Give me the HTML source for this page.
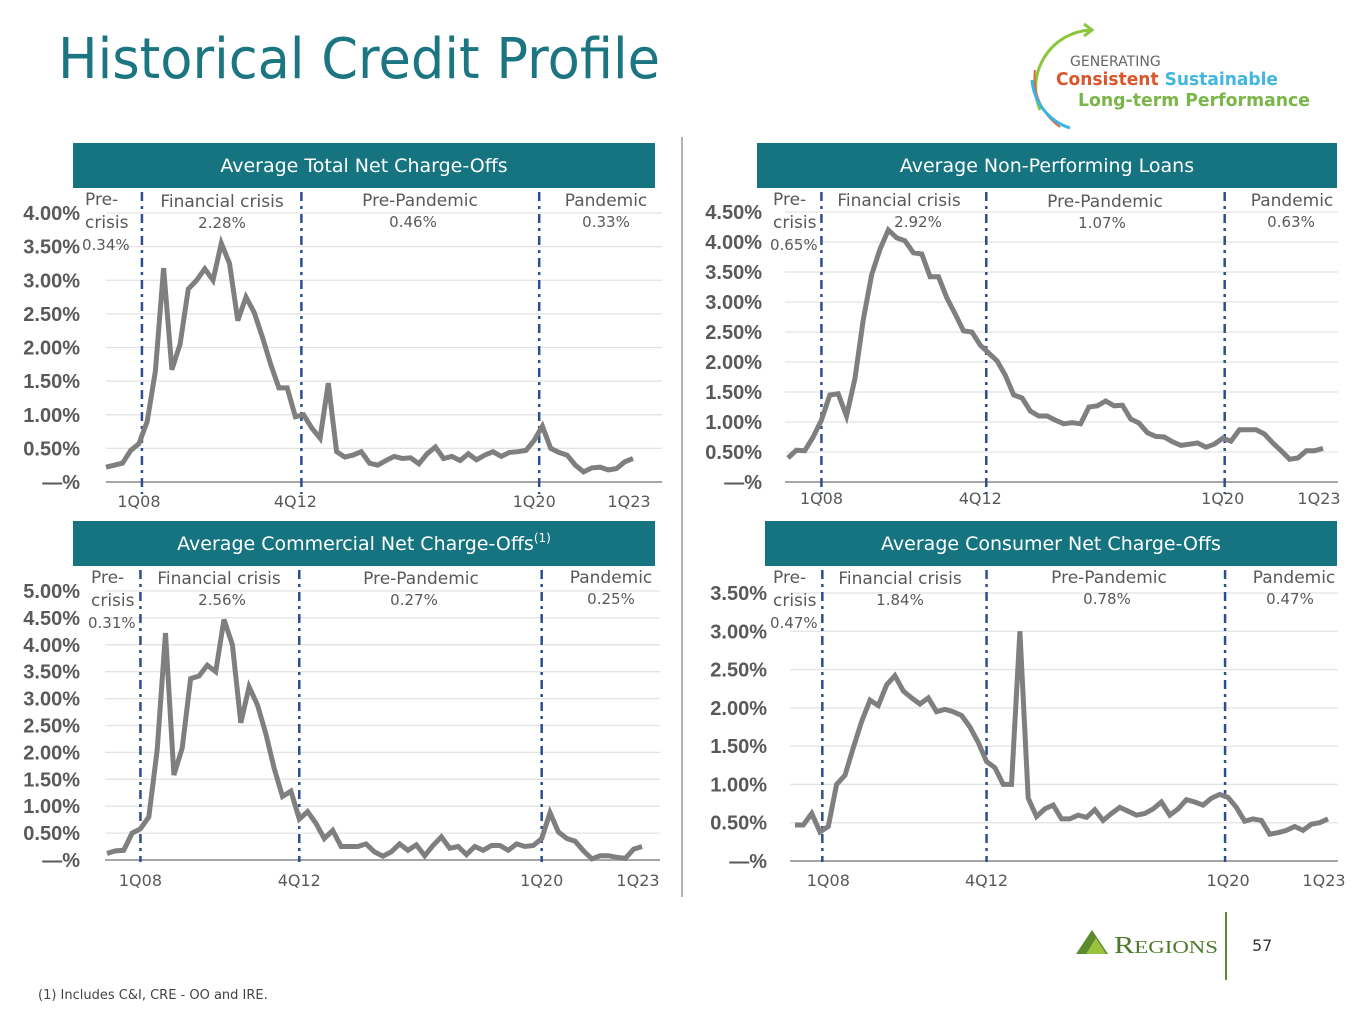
<!DOCTYPE html>
<html><head><meta charset="utf-8"><style>
body{margin:0;background:#fff;width:1365px;height:1024px;overflow:hidden;font-family:"Liberation Sans",sans-serif}
svg text{font-family:"DejaVu Sans","Liberation Sans",sans-serif}
</style></head><body>
<svg id="s" width="1365" height="1024" viewBox="0 0 1365 1024">
<text x="58" y="78" font-size="56" fill="#1b7682" textLength="602" lengthAdjust="spacingAndGlyphs">Historical Credit Profile</text>
<g>
<path d="M1090,30 A58,58 0 0 0 1040,110" fill="none" stroke="#8cc63f" stroke-width="3"/>
<path d="M1084,24 l8,6 l-8,6" fill="none" stroke="#8cc63f" stroke-width="3"/>
<path d="M1035,70 A60,60 0 0 0 1060,127" fill="none" stroke="#e06a3b" stroke-width="2"/>
<path d="M1032,80 A55,55 0 0 0 1070,128" fill="none" stroke="#39b4e6" stroke-width="3"/>
<text x="1070" y="66" font-size="14" fill="#666">GENERATING</text>
<text x="1056" y="85" font-size="18" font-weight="bold" fill="#d9572b" textLength="222" lengthAdjust="spacingAndGlyphs">Consistent <tspan fill="#43b6e0">Sustainable</tspan></text>
<text x="1078" y="106" font-size="18" font-weight="bold" fill="#7ab648" textLength="232" lengthAdjust="spacingAndGlyphs">Long-term Performance</text>
</g>
<line x1="682" y1="137" x2="682" y2="897" stroke="#999" stroke-width="1.5"/>
<g>
<polygon points="1076,954 1092,930 1108,954" fill="#5c8a2e"/>
<polygon points="1086,954 1096,938 1106,954" fill="#9bc23c"/>
<text x="1114" y="953" font-size="24" fill="#4d7a2a" textLength="104" lengthAdjust="spacingAndGlyphs" style="font-family:'Liberation Serif'">R<tspan font-size="18">EGIONS</tspan></text>
<line x1="1226" y1="912" x2="1226" y2="980" stroke="#5c8a2e" stroke-width="2"/>
<text x="1252" y="951" font-size="16" fill="#333">57</text>
</g>
<text x="38" y="999" font-size="13" fill="#444">(1) Includes C&amp;I, CRE - OO and IRE.</text>
</svg>
<script>
const totalNCO=[0.22,0.25,0.28,0.47,0.57,0.90,1.65,3.18,1.67,2.05,2.87,3.00,3.17,3.00,3.55,3.25,2.40,2.75,2.52,2.15,1.75,1.40,1.40,0.97,1.00,0.80,0.65,1.47,0.45,0.37,0.40,0.45,0.28,0.25,0.32,0.38,0.35,0.36,0.27,0.42,0.52,0.35,0.38,0.32,0.42,0.33,0.40,0.45,0.38,0.44,0.45,0.47,0.62,0.83,0.50,0.44,0.40,0.25,0.15,0.21,0.22,0.18,0.20,0.30,0.35];
const npl=[0.40,0.53,0.52,0.75,1.03,1.45,1.47,1.10,1.72,2.70,3.45,3.88,4.20,4.07,4.02,3.82,3.80,3.42,3.42,3.07,2.80,2.52,2.50,2.28,2.15,2.02,1.78,1.45,1.40,1.18,1.10,1.10,1.03,0.97,0.99,0.97,1.25,1.27,1.35,1.27,1.28,1.05,0.98,0.82,0.76,0.75,0.67,0.61,0.63,0.65,0.58,0.63,0.73,0.68,0.87,0.87,0.87,0.80,0.65,0.52,0.38,0.40,0.52,0.52,0.56];
const commNCO=[0.12,0.17,0.18,0.50,0.58,0.80,2.05,4.22,1.58,2.08,3.37,3.42,3.62,3.50,4.47,4.00,2.55,3.22,2.88,2.35,1.70,1.18,1.28,0.76,0.90,0.68,0.40,0.55,0.25,0.25,0.25,0.30,0.15,0.07,0.15,0.30,0.18,0.28,0.08,0.27,0.43,0.22,0.25,0.10,0.25,0.18,0.27,0.27,0.18,0.30,0.25,0.27,0.40,0.88,0.52,0.40,0.35,0.17,0.02,0.08,0.08,0.05,0.03,0.20,0.25];
const consNCO=[0.47,0.47,0.62,0.38,0.45,1.00,1.12,1.48,1.82,2.10,2.03,2.30,2.42,2.22,2.13,2.05,2.13,1.95,1.98,1.95,1.90,1.75,1.55,1.30,1.22,1.00,1.00,3.00,0.82,0.58,0.68,0.73,0.55,0.55,0.60,0.57,0.67,0.53,0.62,0.70,0.65,0.60,0.62,0.68,0.77,0.60,0.68,0.80,0.77,0.73,0.82,0.87,0.83,0.70,0.52,0.55,0.53,0.35,0.37,0.40,0.45,0.40,0.48,0.50,0.55];
const xTickLabels=["1Q08","4Q12","1Q20","1Q23"];
const xTickIndex=[4,23,52,64];
const dividerIndex=[4,23,52];
const periodNames=[["Pre-","crisis"],"Financial crisis","Pre-Pandemic","Pandemic"];
const avgTotal=["0.34%","2.28%","0.46%","0.33%"];
const avgNpl=["0.65%","2.92%","1.07%","0.63%"];
const avgComm=["0.31%","2.56%","0.27%","0.25%"];
const avgCons=["0.47%","1.84%","0.78%","0.47%"];
const ticksTotal=[0,0.5,1,1.5,2,2.5,3,3.5,4];
const ticksNpl=[0,0.5,1,1.5,2,2.5,3,3.5,4,4.5];
const ticksComm=[0,0.5,1,1.5,2,2.5,3,3.5,4,4.5,5];
const ticksCons=[0,0.5,1,1.5,2,2.5,3,3.5];

const svg=document.getElementById('s');
const NS='http://www.w3.org/2000/svg';
function mk(tag,attrs,parent){const e=document.createElementNS(NS,tag);for(const k in attrs)e.setAttribute(k,attrs[k]);(parent||svg).appendChild(e);return e;}
function txt(x,y,s,size,anchor,fill,parent){const t=mk('text',{x:x,y:y,'font-size':size,'text-anchor':anchor||'start',fill:fill||'#595959'},parent);t.textContent=s;return t;}

function chart(c){
  const g=mk('g',{});
  
  
  const h=mk('rect',{x:c.hx,y:c.hy,width:c.hw,height:45,fill:'#157480'},g);
  
  
  const ht=txt(c.hx+c.hw/2,c.hy+29,c.title,19,'middle','#fff',g);
  
  
  if(c.sup){const sp=mk('tspan',{'font-size':12,dy:-8},ht);sp.textContent=c.sup;}
  const ymax=c.ticks[c.ticks.length-1];
  const y=v=>c.y0-(v/ymax)*(c.y0-c.yTop);
  const n=c.data.length;
  const x=i=>c.xs+(c.xe-c.xs)*i/(n-1);
  c.ticks.forEach(t=>{
    const gl=mk('line',{x1:c.gx1,x2:c.gx2,y1:y(t),y2:y(t),stroke:t===0?'#a6a6a6':'#e3e3e3','stroke-width':t===0?2:1.3},g);
    
    
    const lab=txt(c.lx,y(t)+7,t===0?'—%':t.toFixed(2)+'%',20,'end','#595959',g);
    
    
    lab.setAttribute('font-weight','bold');
    lab.style.fontFamily="'Liberation Sans'";
  });
  xTickIndex.forEach((ix,k)=>{
    const l=txt(x(ix)+(k===3?-4:0),c.xly,xTickLabels[k],16,'middle','#595959',g);
    
    
  });
  dividerIndex.forEach((ix,k)=>{
    const dx=x(ix)+(c.dOff?c.dOff[k]:0);
    const d=mk('line',{x1:dx,x2:dx,y1:c.dy1,y2:c.dy2,stroke:'#2e4d8e','stroke-width':2.5,'stroke-dasharray':'9,5,3,5'},g);
    
    
  });
  const pts=c.data.map((v,i)=>x(i).toFixed(1)+','+y(v).toFixed(1)).join(' ');
  const pl=mk('polyline',{points:pts,fill:'none',stroke:'#7f7f7f','stroke-width':5,'stroke-linejoin':'miter'},g);
  
  
  const pa=c.pa;
  const t1=txt(pa[0][0],pa[0][1],'Pre-',17,'start','#595959',g);
  
  
  const t2=txt(pa[0][0],pa[0][1]+23,'crisis',17,'start','#595959',g);
  
  
  const t3=txt(pa[0][0]-3,pa[0][1]+45,c.avg[0],15,'start','#595959',g);
  
  
  for(let k=1;k<4;k++){
    const a=txt(pa[k][0],pa[k][1],periodNames[k],17,'middle','#595959',g);
    
    
    const b=txt(pa[k][2],pa[k][1]+21,c.avg[k],15,'middle','#595959',g);
    
    
  }
}
chart({name:'total-nco-chart',title:'Average Total Net Charge-Offs',hx:73,hy:143,hw:582,data:totalNCO,ticks:ticksTotal,yTop:213,y0:482,xs:106,xe:633,gx1:106,gx2:662,lx:80,xly:507,dy1:192,dy2:494,dOff:[3,6,5],avg:avgTotal,
  pa:[[85,205],[222,207,222],[420,206,413],[606,206,606]]});
chart({name:'npl-chart',title:'Average Non-Performing Loans',hx:757,hy:143,hw:580,data:npl,ticks:ticksNpl,yTop:212,y0:482,xs:788,xe:1323,gx1:785,gx2:1338,lx:762,xly:504,dy1:192,dy2:494,dOff:[0,6,2],avg:avgNpl,
  pa:[[773,205],[899,206,918],[1105,207,1102],[1292,206,1291]]});
chart({name:'commercial-nco-chart',title:'Average Commercial Net Charge-Offs',sup:'(1)',hx:73,hy:521,hw:582,data:commNCO,ticks:ticksComm,yTop:591,y0:860,xs:107,xe:642,gx1:105,gx2:660,lx:80,xly:886,dy1:570,dy2:862,avg:avgComm,
  pa:[[91,583],[219,584,222],[421,584,414],[611,583,611]]});
chart({name:'consumer-nco-chart',title:'Average Consumer Net Charge-Offs',hx:765,hy:521,hw:572,data:consNCO,ticks:ticksCons,yTop:593,y0:861,xs:795,xe:1328,gx1:790,gx2:1338,lx:767,xly:886,dy1:570,dy2:862,dOff:[-6,0,-3],avg:avgCons,
  pa:[[773,583],[900,584,900],[1109,583,1107],[1294,583,1290]]});
</script>
</body></html>
